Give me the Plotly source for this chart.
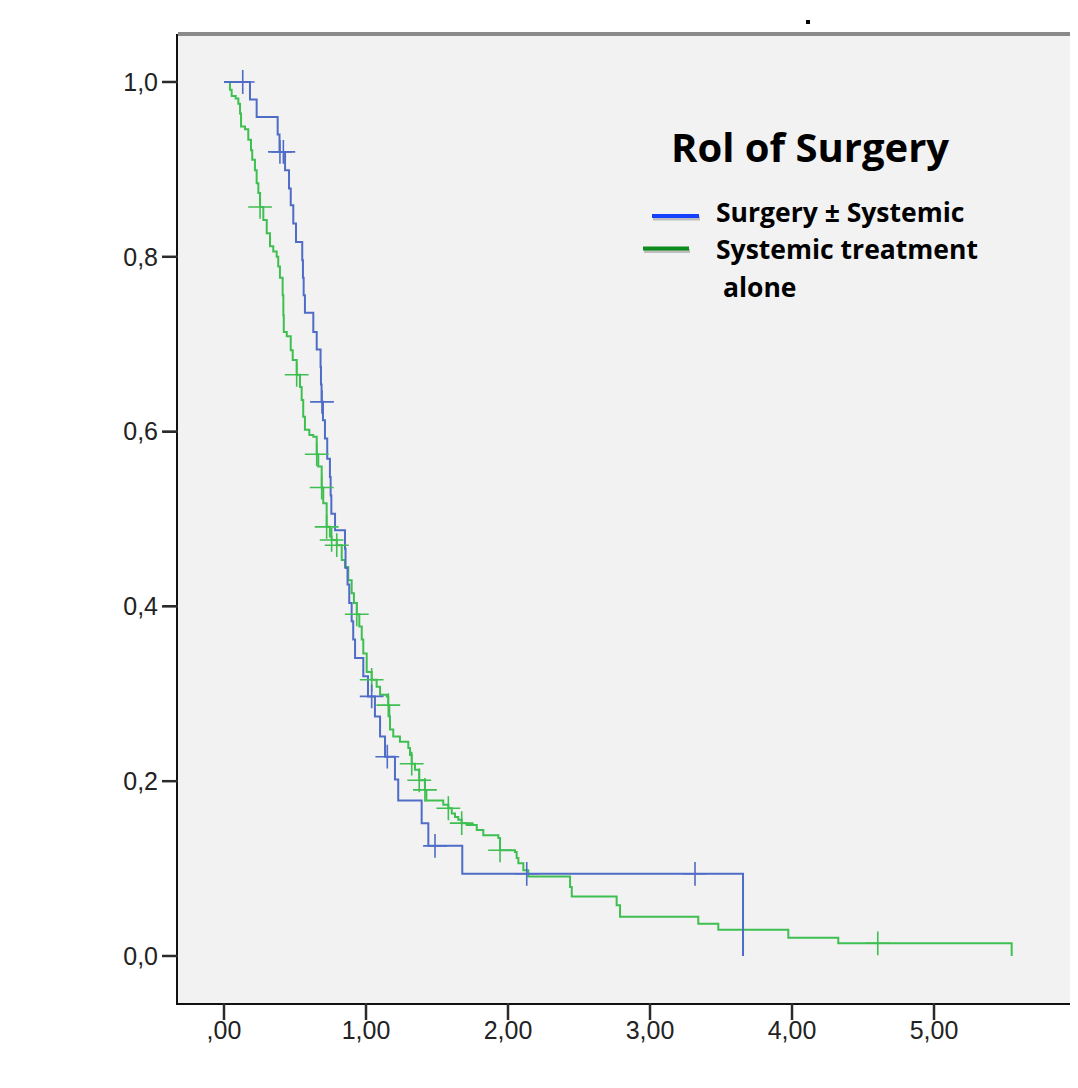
import plotly.graph_objects as go

# ---------------- data ----------------
surg_t = [0, 0.183, 0.230, 0.378, 0.391, 0.430, 0.458, 0.470, 0.488, 0.507, 0.551, 0.556, 0.561, 0.570,
          0.629, 0.653, 0.680, 0.683, 0.687, 0.697, 0.711, 0.727, 0.746, 0.751, 0.756, 0.782, 0.852, 0.856,
          0.870, 0.882, 0.899, 0.910, 0.923, 0.981, 1.014, 1.063, 1.099, 1.134, 1.204, 1.227, 1.392, 1.439,
          1.678, 3.655]
surg_s = [1.0, 0.980, 0.960, 0.940, 0.920, 0.899, 0.878, 0.859, 0.838, 0.817, 0.796, 0.776, 0.756, 0.736,
          0.714, 0.694, 0.674, 0.654, 0.634, 0.613, 0.592, 0.569, 0.548, 0.527, 0.506, 0.487, 0.466, 0.444,
          0.425, 0.404, 0.383, 0.362, 0.341, 0.320, 0.297, 0.274, 0.251, 0.228, 0.202, 0.178, 0.152, 0.126,
          0.094, 0.0]
surg_cens_t = [0.132, 0.394, 0.418, 0.690, 1.040, 1.150, 1.486, 2.132, 3.317]
surg_cens_s = [1.0, 0.920, 0.920, 0.634, 0.297, 0.228, 0.126, 0.094, 0.094]

syst_t = [0, 0.042, 0.054, 0.082, 0.101, 0.113, 0.120, 0.148, 0.171, 0.190, 0.199, 0.218, 0.230, 0.242,
          0.254, 0.277, 0.301, 0.324, 0.347, 0.371, 0.382, 0.394, 0.413, 0.418, 0.421, 0.442, 0.470, 0.484,
          0.512, 0.535, 0.547, 0.558, 0.570, 0.601, 0.629, 0.653, 0.664, 0.688, 0.699, 0.723, 0.746, 0.758,
          0.794, 0.829, 0.852, 0.875, 0.899, 0.915, 0.935, 0.953, 0.970, 0.981, 1.005, 1.040, 1.075, 1.099,
          1.146, 1.157, 1.164, 1.169, 1.192, 1.239, 1.298, 1.310, 1.322, 1.345, 1.375, 1.415, 1.425, 1.544,
          1.580, 1.604, 1.627, 1.650, 1.674, 1.709, 1.780, 1.826, 1.932, 1.944, 2.049, 2.061, 2.073, 2.108,
          2.143, 2.437, 2.449, 2.765, 2.789, 3.340, 3.481, 3.974, 4.326, 5.547]
syst_s = [1.0, 0.991, 0.984, 0.981, 0.975, 0.964, 0.949, 0.946, 0.934, 0.922, 0.911, 0.899, 0.884, 0.873,
          0.857, 0.842, 0.827, 0.812, 0.806, 0.800, 0.789, 0.776, 0.756, 0.733, 0.714, 0.709, 0.693, 0.682,
          0.665, 0.651, 0.636, 0.617, 0.602, 0.596, 0.594, 0.574, 0.560, 0.536, 0.518, 0.491, 0.480, 0.476,
          0.470, 0.453, 0.445, 0.430, 0.415, 0.404, 0.391, 0.377, 0.362, 0.346, 0.325, 0.316, 0.308, 0.299,
          0.297, 0.287, 0.274, 0.259, 0.251, 0.245, 0.238, 0.230, 0.220, 0.213, 0.201, 0.190, 0.178, 0.173,
          0.169, 0.163, 0.159, 0.156, 0.152, 0.150, 0.144, 0.138, 0.135, 0.121, 0.119, 0.112, 0.106, 0.098,
          0.091, 0.079, 0.068, 0.058, 0.045, 0.037, 0.030, 0.021, 0.0145, 0.0]
syst_cens_t = [0.254, 0.512, 0.653, 0.688, 0.723, 0.758, 0.794, 0.935, 1.040, 1.157, 1.322, 1.375, 1.415,
               1.580, 1.674, 1.944, 4.604]
syst_cens_s = [0.857, 0.665, 0.574, 0.536, 0.491, 0.476, 0.470, 0.391, 0.316, 0.287, 0.220, 0.201, 0.190,
               0.169, 0.152, 0.121, 0.0145]

x_tick_vals = [0, 1, 2, 3, 4, 5, 6]
x_tick_text = [",00", "1,00", "2,00", "3,00", "4,00", "5,00", "6,00"]
y_tick_vals = [0.0, 0.2, 0.4, 0.6, 0.8, 1.0]
y_tick_text = ["0,0", "0,2", "0,4", "0,6", "0,8", "1,0"]

legend_title = "Rol of Surgery"
legend_names = ["Surgery ± Systemic", "Systemic treatment", "&nbsp;alone"]

assert len(surg_t) == len(surg_s) and len(syst_t) == len(syst_s)

# ---------------- styles / geometry ----------------
BLUE = "#4f6cc6"
GREEN = "#3fbf52"
TICK = "#2b2b2b"
OFF = 8                      # default page body margin
W, H = 1070, 1072
ML, MR, MT, MB = 170, 0, 26, 77
PW, PH = W - ML - MR, H - MT - MB
X_RANGE = [-0.3239, 6.014]
Y_RANGE = [-0.0538, 1.0549]


def px(x):
    """screen pixel x -> paper coordinate"""
    return (x - OFF - ML) / PW


def py(y):
    """screen pixel y -> paper coordinate"""
    return (OFF + H - MB - y) / PH


fig = go.Figure()
fig.add_trace(go.Scatter(x=syst_t, y=syst_s, mode="lines", line=dict(color=GREEN, width=2, shape="hv"),
                         hoverinfo="skip"))
fig.add_trace(go.Scatter(x=surg_t, y=surg_s, mode="lines", line=dict(color=BLUE, width=2, shape="hv"),
                         hoverinfo="skip"))
fig.add_trace(go.Scatter(x=syst_cens_t, y=syst_cens_s, mode="markers",
                         marker=dict(symbol="cross-thin", size=17, line=dict(color=GREEN, width=1.6)),
                         hoverinfo="skip"))
fig.add_trace(go.Scatter(x=surg_cens_t, y=surg_cens_s, mode="markers",
                         marker=dict(symbol="cross-thin", size=17, line=dict(color=BLUE, width=1.6)),
                         hoverinfo="skip"))

tickfont = dict(family="Liberation Sans, Arial, sans-serif", size=25, color="#222222")

fig.update_layout(
    width=W, height=H,
    margin=dict(l=ML, r=MR, t=MT, b=MB, pad=0),
    paper_bgcolor="white",
    plot_bgcolor="#f2f2f2",
    showlegend=False,
    xaxis=dict(range=X_RANGE, tickvals=x_tick_vals, ticktext=x_tick_text,
               showgrid=True, gridcolor="rgba(242,242,242,0)", zeroline=False,
               showline=True, linecolor="#111111", linewidth=2,
               ticks="outside", ticklen=4, tickwidth=2, tickcolor=TICK, tickfont=tickfont),
    yaxis=dict(range=Y_RANGE, tickvals=y_tick_vals, ticktext=y_tick_text,
               showgrid=True, gridcolor="rgba(242,242,242,0)", zeroline=False,
               showline=True, linecolor="#111111", linewidth=2,
               ticks="outside", ticklen=13, tickwidth=2, tickcolor=TICK, tickfont=tickfont),
)

shapes = []
# full-length tick marks, placed through the axis ranges
for v in x_tick_vals:
    xp = (v - X_RANGE[0]) / (X_RANGE[1] - X_RANGE[0])
    shapes.append(dict(type="line", xref="paper", yref="paper", x0=xp, x1=xp, y0=0, y1=-17 / PH,
                       line=dict(color=TICK, width=2.5)))
for v in y_tick_vals:
    yp = (v - Y_RANGE[0]) / (Y_RANGE[1] - Y_RANGE[0])
    shapes.append(dict(type="line", xref="paper", yref="paper", x0=-16 / PW, x1=0, y0=yp, y1=yp,
                       line=dict(color=TICK, width=2.5)))
# top frame line (grey)
shapes.append(dict(type="line", xref="paper", yref="paper", x0=0, x1=1, y0=1, y1=1,
                   line=dict(color="#8a8a8a", width=4)))
# small dot above the frame
shapes.append(dict(type="rect", xref="paper", yref="paper", x0=px(806), x1=px(810), y0=py(24), y1=py(20),
                   line=dict(width=0), fillcolor="black"))
# legend lines with shadows
for (x0, x1, y, col) in [(652, 699, 216, "#1440ff"), (643, 689, 248.5, "#0b8c1c")]:
    shapes.append(dict(type="line", xref="paper", yref="paper", x0=px(x0 + 1), x1=px(x1 + 1),
                       y0=py(y + 2.5), y1=py(y + 2.5), line=dict(color="rgba(0,0,0,0.22)", width=4)))
    shapes.append(dict(type="line", xref="paper", yref="paper", x0=px(x0), x1=px(x1), y0=py(y), y1=py(y),
                       line=dict(color=col, width=4)))
fig.update_layout(shapes=shapes)

lfont = "Open Sans, Lato, sans-serif"
fig.add_annotation(xref="paper", yref="paper", x=px(810), y=py(147), text="<b>%s</b>" % legend_title,
                   showarrow=False, xanchor="center", yanchor="middle",
                   font=dict(family=lfont, size=40, color="black"))
for (name, x, y) in zip(legend_names, [714, 714, 714], [212, 249, 287]):
    fig.add_annotation(xref="paper", yref="paper", x=px(x), y=py(y), text="<b>%s</b>" % name,
                       showarrow=False, xanchor="left", yanchor="middle",
                       font=dict(family=lfont, size=26.5, color="black"))

fig.write_html("out.html")
